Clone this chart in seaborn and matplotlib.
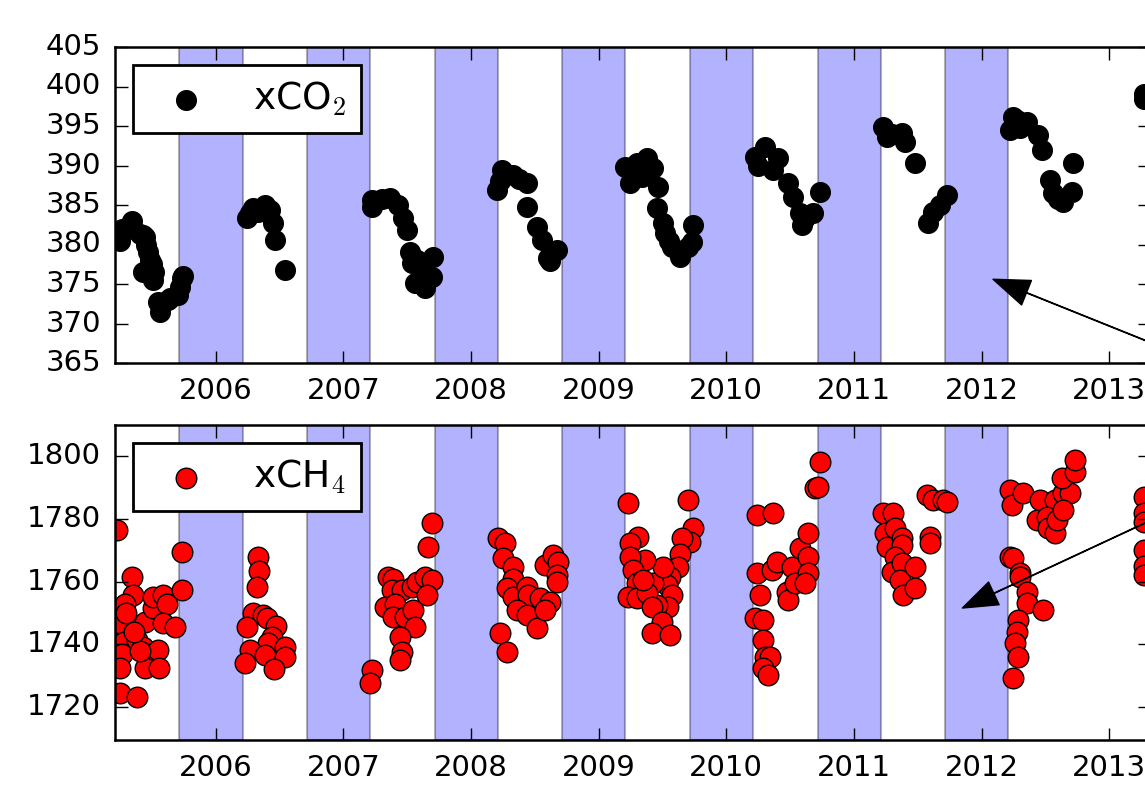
import numpy as np
import matplotlib
matplotlib.use("Agg")
import matplotlib.pyplot as plt
import seaborn as sns

# decimal years and values
co2_year = [2005.250, 2005.266, 2005.250, 2005.328, 2005.343, 2005.351, 2005.406, 2005.430, 2005.446, 2005.469,
            2005.485, 2005.430, 2005.509, 2005.501, 2005.548, 2005.563, 2005.626, 2005.642, 2005.705, 2005.720,
            2005.736, 2005.744, 2005.450, 2005.520,
            2006.245, 2006.292, 2006.331, 2006.386, 2006.426, 2006.449, 2006.465, 2006.543, 2006.270, 2006.360,
            2007.225, 2007.225, 2007.366, 2007.428, 2007.467, 2007.499, 2007.523, 2007.538, 2007.562, 2007.640,
            2007.695, 2007.703, 2007.624, 2007.300, 2007.580,
            2008.244, 2008.205, 2008.330, 2008.440, 2008.440, 2008.518, 2008.557, 2008.604, 2008.675, 2008.228,
            2008.380, 2008.620,
            2009.208, 2009.247, 2009.380, 2009.427, 2009.466, 2009.458, 2009.505, 2009.521, 2009.576, 2009.639,
            2009.733, 2009.740, 2009.701, 2009.300, 2009.340, 2009.550,
            2010.226, 2010.304, 2010.406, 2010.367, 2010.485, 2010.524, 2010.579, 2010.595, 2010.681, 2010.736,
            2010.250, 2010.620,
            2011.230, 2011.261, 2011.379, 2011.402, 2011.480, 2011.582, 2011.621, 2011.676, 2011.731, 2011.300,
            2012.248, 2012.225, 2012.358, 2012.444, 2012.476, 2012.719, 2012.538, 2012.562, 2012.640, 2012.711,
            2012.280, 2012.300, 2012.600,
            2013.270, 2013.270]
co2_value = [380.5, 382.0, 381.2, 382.5, 383.0, 382.0, 381.3, 381.2, 381.0, 379.0,
             378.0, 376.5, 375.5, 377.5, 372.7, 371.5, 373.0, 373.2, 373.6, 374.6,
             375.8, 376.0, 380.0, 376.5,
             383.4, 384.6, 384.1, 385.0, 384.4, 382.7, 380.6, 376.8, 384.0, 384.3,
             384.8, 385.6, 385.9, 385.0, 383.4, 381.8, 379.0, 377.7, 375.1, 374.5,
             375.9, 378.4, 377.0, 385.7, 378.0,
             389.4, 386.9, 388.8, 387.8, 384.8, 382.2, 380.6, 378.3, 379.3, 388.0,
             388.3, 377.9,
             389.8, 387.8, 391.0, 389.7, 387.3, 384.6, 382.7, 381.5, 379.7, 378.4,
             380.3, 382.5, 379.7, 390.3, 388.5, 380.5,
             391.1, 392.3, 391.0, 389.4, 387.8, 386.0, 384.0, 382.5, 384.0, 386.6,
             390.0, 383.3,
             394.9, 393.6, 394.1, 393.0, 390.3, 382.7, 384.1, 385.0, 386.3, 394.0,
             396.1, 394.5, 395.5, 393.9, 392.0, 390.3, 388.2, 386.5, 385.4, 386.6,
             395.8, 394.8, 385.8,
             399.0, 398.4]

ch4_year = [2005.226, 2005.343, 2005.351, 2005.289, 2005.266, 2005.250, 2005.281, 2005.266, 2005.250, 2005.250,
            2005.383, 2005.383, 2005.430, 2005.446, 2005.485, 2005.446, 2005.509, 2005.509, 2005.587, 2005.618,
            2005.548, 2005.556, 2005.587, 2005.681, 2005.736, 2005.736, 2005.406, 2005.300, 2005.360,
            2006.331, 2006.339, 2006.324, 2006.292, 2006.371, 2006.402, 2006.473, 2006.245, 2006.441, 2006.410,
            2006.269, 2006.386, 2006.543, 2006.543, 2006.230, 2006.457,
            2007.225, 2007.209, 2007.695, 2007.664, 2007.350, 2007.389, 2007.381, 2007.460, 2007.327, 2007.405,
            2007.389, 2007.483, 2007.546, 2007.562, 2007.444, 2007.460, 2007.444, 2007.538, 2007.577, 2007.640,
            2007.695, 2007.656,
            2008.212, 2008.267, 2008.252, 2008.330, 2008.330, 2008.283, 2008.330, 2008.440, 2008.448, 2008.361,
            2008.440, 2008.518, 2008.542, 2008.620, 2008.581, 2008.581, 2008.643, 2008.683, 2008.675, 2008.675,
            2008.228, 2008.283,
            2009.232, 2009.701, 2009.740, 2009.717, 2009.654, 2009.639, 2009.623, 2009.560, 2009.537, 2009.576,
            2009.545, 2009.458, 2009.427, 2009.505, 2009.365, 2009.310, 2009.247, 2009.247, 2009.271, 2009.302,
            2009.232, 2009.302, 2009.380, 2009.419, 2009.498, 2009.419, 2009.560, 2009.349,
            2010.242, 2010.367, 2010.242, 2010.265, 2010.226, 2010.289, 2010.289, 2010.304, 2010.344, 2010.289,
            2010.328, 2010.359, 2010.399, 2010.477, 2010.485, 2010.516, 2010.540, 2010.579, 2010.642, 2010.642,
            2010.642, 2010.618, 2010.697, 2010.720, 2010.736,
            2011.230, 2011.308, 2011.245, 2011.261, 2011.324, 2011.379, 2011.379, 2011.324, 2011.300, 2011.379,
            2011.363, 2011.386, 2011.480, 2011.480, 2011.598, 2011.598, 2011.574, 2011.621, 2011.700, 2011.731,
            2012.225, 2012.241, 2012.327, 2012.460, 2012.577, 2012.640, 2012.695, 2012.632, 2012.734, 2012.734,
            2012.437, 2012.515, 2012.523, 2012.577, 2012.593, 2012.640, 2012.225, 2012.248, 2012.303, 2012.303,
            2012.358, 2012.358, 2012.484, 2012.288, 2012.280, 2012.264, 2012.288, 2012.248,
            2013.270, 2013.270, 2013.270, 2013.270, 2013.270, 2013.270]
ch4_value = [1776.4, 1761.4, 1755.7, 1753.0, 1746.0, 1746.8, 1740.7, 1737.0, 1732.4, 1724.5,
             1723.2, 1741.4, 1739.1, 1747.0, 1737.0, 1732.4, 1751.6, 1755.1, 1755.7, 1753.0,
             1738.2, 1732.4, 1746.8, 1745.5, 1757.3, 1769.4, 1738.0, 1750.0, 1744.0,
             1767.8, 1763.3, 1758.2, 1750.0, 1749.3, 1748.4, 1746.0, 1745.5, 1742.3, 1740.4,
             1738.2, 1736.6, 1739.1, 1736.0, 1734.0, 1732.1,
             1731.8, 1727.6, 1778.6, 1771.0, 1761.4, 1761.0, 1757.3, 1757.3, 1751.9, 1753.0,
             1748.7, 1748.7, 1750.9, 1745.5, 1742.3, 1737.5, 1735.0, 1758.2, 1759.9, 1761.4,
             1760.4, 1755.7,
             1773.9, 1772.3, 1767.5, 1764.6, 1761.0, 1757.9, 1755.1, 1758.2, 1755.7, 1750.9,
             1749.3, 1745.2, 1754.7, 1753.5, 1750.9, 1765.3, 1768.4, 1766.2, 1762.1, 1759.9,
             1743.6, 1737.5,
             1785.0, 1786.0, 1777.0, 1772.6, 1773.9, 1769.0, 1764.6, 1761.4, 1758.9, 1755.7,
             1751.9, 1752.5, 1759.5, 1764.6, 1766.9, 1774.2, 1772.3, 1767.8, 1763.7, 1759.5,
             1755.1, 1754.7, 1756.3, 1751.9, 1747.1, 1743.6, 1743.0, 1760.4,
             1781.2, 1781.8, 1762.7, 1755.7, 1748.4, 1747.7, 1741.4, 1735.9, 1735.9, 1732.4,
             1730.2, 1763.7, 1766.2, 1756.7, 1754.1, 1764.6, 1759.5, 1770.7, 1775.5, 1767.8,
             1762.7, 1759.5, 1789.8, 1790.2, 1798.1,
             1781.8, 1781.8, 1775.5, 1771.0, 1777.0, 1773.9, 1771.6, 1767.8, 1763.0, 1765.9,
             1760.4, 1755.7, 1764.6, 1757.9, 1774.2, 1772.3, 1787.6, 1786.0, 1786.0, 1785.3,
             1789.2, 1784.4, 1788.2, 1786.0, 1786.0, 1788.2, 1788.2, 1793.0, 1794.9, 1798.7,
             1779.6, 1780.6, 1777.0, 1775.5, 1779.6, 1782.8, 1767.8, 1767.5, 1762.7, 1761.4,
             1756.7, 1753.1, 1750.9, 1747.7, 1743.9, 1740.4, 1736.0, 1729.2,
             1787.0, 1782.0, 1779.0, 1770.0, 1765.0, 1762.0]

# shaded winter periods (decimal years)
span_start = [2005.715, 2006.715, 2007.715, 2008.715, 2009.715, 2010.715, 2011.715]
span_end = [2006.21, 2007.21, 2008.21, 2009.21, 2010.21, 2011.21, 2012.21]

years = [2006, 2007, 2008, 2009, 2010, 2011, 2012, 2013]
co2_ticks = [365, 370, 375, 380, 385, 390, 395, 400, 405]
ch4_ticks = [1720, 1740, 1760, 1780, 1800]

# arrow tips
co2_arrow = (2012.09, 375.6)
ch4_arrow = (2011.85, 1751.6)

plt.style.use("classic")
plt.rcParams["figure.facecolor"] = "white"
plt.rcParams["savefig.facecolor"] = "white"
plt.rcParams["font.family"] = ["DejaVu Sans"]
plt.rcParams["mathtext.fontset"] = "cm"

fig = plt.figure(figsize=(11.45, 7.95), dpi=100)
ax1 = fig.add_axes([115 / 1145, 1 - 363 / 795, 1035 / 1145, 316 / 795])
ax2 = fig.add_axes([115 / 1145, 1 - 740 / 795, 1035 / 1145, 315 / 795])

for ax in (ax1, ax2):
    for s, e in zip(span_start, span_end):
        ax.axvspan(s, e, facecolor="b", edgecolor="k", linewidth=1.5, alpha=0.3, zorder=0)

sns.scatterplot(x=co2_year, y=co2_value, ax=ax1, color="black", edgecolor="black",
                linewidth=1, s=200, label="xCO$_2$", zorder=2)
sns.scatterplot(x=ch4_year, y=ch4_value, ax=ax2, color="red", edgecolor="black",
                linewidth=1, s=220, label="xCH$_4$", zorder=2)

ax1.set_ylim(365, 405)
ax2.set_ylim(1709.5, 1810)
ax1.set_yticks(co2_ticks)
ax2.set_yticks(ch4_ticks)

for ax in (ax1, ax2):
    ax.set_xlim(2005.211, 2013.32)
    ax.set_xticks(years)
    ax.set_xticklabels([str(y) for y in years])
    ax.set_xlabel("")
    ax.set_ylabel("")
    ax.tick_params(which="major", direction="in", length=9, width=1, labelsize=21, pad=10,
                   top=True, right=True)
    ax.tick_params(which="minor", length=0)
    for sp in ax.spines.values():
        sp.set_linewidth(1.8)
    leg = ax.legend(loc="upper left", scatterpoints=1, handlelength=2.0, fontsize=27,
                    fancybox=False, borderpad=0.4, handletextpad=0.8, borderaxespad=0.48)
    leg.get_frame().set_linewidth(2)
    leg.get_frame().set_edgecolor("black")

ax1.annotate("", xy=co2_arrow, xycoords="data", xytext=(1.184, 0.4654), textcoords="figure fraction",
             arrowprops=dict(facecolor="black", edgecolor="black", width=0.3, headwidth=19,
                             headlength=26, shrink=0), annotation_clip=False, zorder=5)
ax2.annotate("", xy=ch4_arrow, xycoords="data", xytext=(1.184, 0.4654), textcoords="figure fraction",
             arrowprops=dict(facecolor="black", edgecolor="black", width=0.3, headwidth=18,
                             headlength=25, shrink=0), annotation_clip=False, zorder=5)

fig.savefig("out.png", dpi=100)
